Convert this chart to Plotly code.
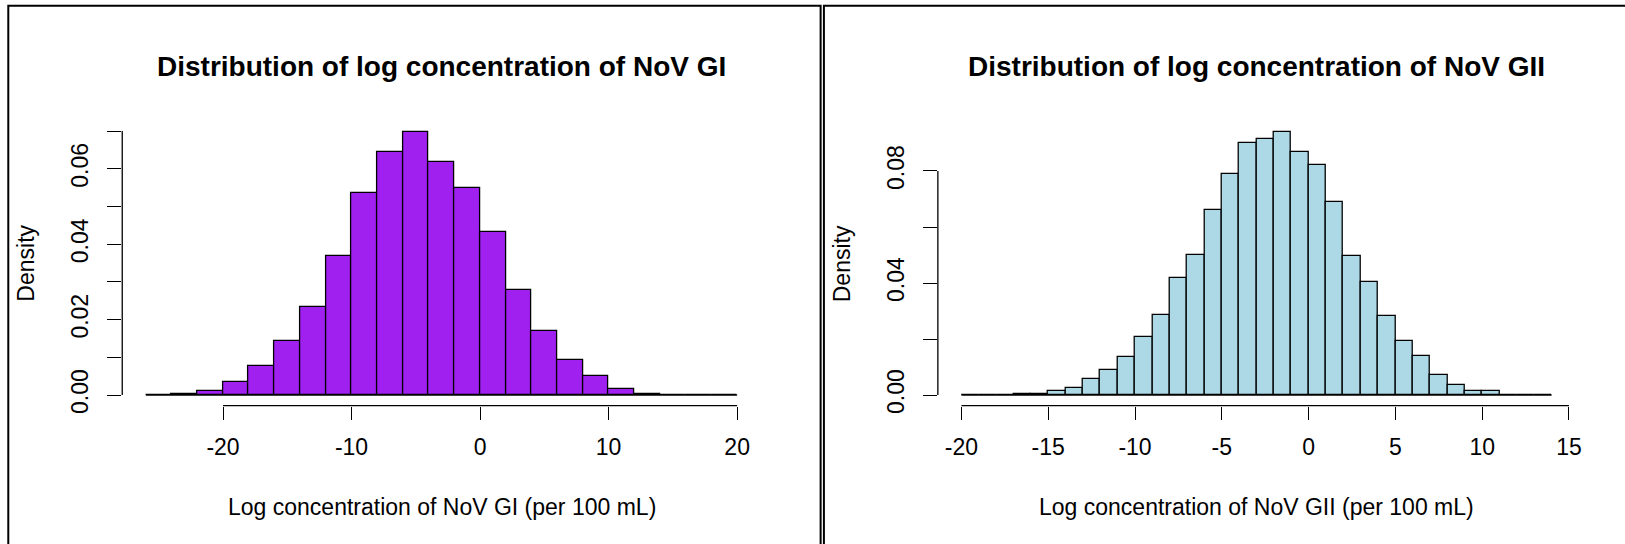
import plotly.graph_objects as go

# ---------------- data ----------------
gi_bin_start = -26
gi_bin_width = 2
gi_density = [0, 0.0004, 0.0011, 0.0035, 0.0078, 0.0144, 0.0235, 0.0368, 0.0537,
              0.0645, 0.0699, 0.0617, 0.0548, 0.0433, 0.0279, 0.0171, 0.0094,
              0.0050, 0.0016, 0.0004, 0, 0, 0]

gii_bin_start = -20
gii_bin_width = 1
gii_density = [0, 0, 0, 0.0004, 0.0005, 0.0016, 0.0026, 0.0059, 0.0090, 0.0135,
               0.0208, 0.0287, 0.0417, 0.0499, 0.0660, 0.0790, 0.0899, 0.0915,
               0.0941, 0.0868, 0.0823, 0.0688, 0.0495, 0.0405, 0.0281, 0.0193,
               0.0141, 0.0073, 0.0036, 0.0016, 0.0016, 0, 0, 0]

gi_xticks = [-20, -10, 0, 10, 20]
gi_yticks = [0, 0.01, 0.02, 0.03, 0.04, 0.05, 0.06, 0.07]
gi_ylabels = ["0.00", "", "0.02", "", "0.04", "", "0.06", ""]

gii_xticks = [-20, -15, -10, -5, 0, 5, 10, 15]
gii_yticks = [0, 0.02, 0.04, 0.06, 0.08]
gii_ylabels = ["0.00", "", "0.04", "", "0.08"]

titles = ["Distribution of log concentration of NoV GI",
          "Distribution of log concentration of NoV GII"]
xtitles = ["Log concentration of NoV GI (per 100 mL)",
           "Log concentration of NoV GII (per 100 mL)"]
ytitle = "Density"
colors = ["#A020F0", "#ADD8E6"]

# ---------------- layout constants ----------------
W, H = 1625, 544
SX, SY = 1.003, 1.017          # small correction for the capture's scaling
FONT = "Arial, Liberation Sans, sans-serif"
TICK_FS = 23
TITLE_FS = 28
plot_top_px, plot_bot_px = 120.7, 404.8
panels_px = [(122.4, 761.8), (939.1, 1577.3)]


def px2x(p):
    return p * SX / W


def px2y(p):
    return 1 - p * SY / H


ydom = [px2y(plot_bot_px), px2y(plot_top_px)]

fig = go.Figure()

datasets = [
    (gi_bin_start, gi_bin_width, gi_density, gi_xticks, gi_yticks, gi_ylabels),
    (gii_bin_start, gii_bin_width, gii_density, gii_xticks, gii_yticks, gii_ylabels),
]

shapes = []
annotations = []
for i, (start, bw, dens, xt, yt, yl) in enumerate(datasets):
    n = len(dens)
    edges = [start + k * bw for k in range(n + 1)]
    centers = [start + (k + 0.5) * bw for k in range(n)]
    xa = "x" if i == 0 else "x2"
    ya = "y" if i == 0 else "y2"
    fig.add_trace(go.Bar(
        x=centers, y=dens, width=[bw] * n,
        marker=dict(color=colors[i], line=dict(color="black", width=1.3)),
        xaxis=xa, yaxis=ya, showlegend=False, hoverinfo="x+y"))
    # baseline over the whole binned range (R draws zero-height rects)
    fig.add_trace(go.Scatter(
        x=[edges[0], edges[-1]], y=[0, 0], mode="lines",
        line=dict(color="black", width=1.3), xaxis=xa, yaxis=ya,
        showlegend=False, hoverinfo="skip"))

    xmin, xmax = edges[0], edges[-1]
    span = xmax - xmin
    xr = [xmin - 0.04 * span, xmax + 0.04 * span]
    ymax = max(dens)
    yr = [-0.04 * ymax, ymax * 1.04]
    xdom = [px2x(panels_px[i][0]), px2x(panels_px[i][1])]

    axis_common = dict(showgrid=False, zeroline=False, showline=False,
                       ticks="outside", tickcolor="black", tickwidth=1.3,
                       tickfont=dict(family=FONT, size=TICK_FS, color="black"))
    fig.update_layout(**{
        ("xaxis" if i == 0 else "xaxis2"): dict(
            domain=xdom, range=xr, anchor=ya, tickmode="array", tickvals=xt,
            ticktext=[str(v) for v in xt], ticklen=13 * SY, ticklabelstandoff=8,
            **axis_common),
        ("yaxis" if i == 0 else "yaxis2"): dict(
            domain=ydom, range=yr, anchor=xa, tickmode="array", tickvals=yt,
            ticktext=yl, ticklen=14, tickangle=-90, ticklabelstandoff=10,
            **axis_common),
    })
    # R-style axis lines that span only the tick range
    shapes.append(dict(type="line", xref=xa, yref="paper", x0=xt[0], x1=xt[-1],
                       y0=ydom[0], y1=ydom[0], line=dict(color="black", width=1.3)))
    shapes.append(dict(type="line", xref="paper", yref=ya, x0=xdom[0], x1=xdom[0],
                       y0=yt[0], y1=yt[-1], line=dict(color="black", width=1.3)))

    cx = (xdom[0] + xdom[1]) / 2
    annotations.append(dict(text="<b>" + titles[i] + "</b>", x=cx, y=px2y(66.3),
                            xref="paper", yref="paper", showarrow=False,
                            xanchor="center", yanchor="middle",
                            font=dict(family=FONT, size=TITLE_FS, color="black")))
    annotations.append(dict(text=xtitles[i], x=cx, y=px2y(505.5),
                            xref="paper", yref="paper", showarrow=False,
                            xanchor="center", yanchor="middle",
                            font=dict(family=FONT, size=TICK_FS, color="black")))
    annotations.append(dict(text=ytitle, x=xdom[0] - px2x(96), y=(ydom[0] + ydom[1]) / 2,
                            xref="paper", yref="paper", showarrow=False, textangle=-90,
                            xanchor="center", yanchor="middle",
                            font=dict(family=FONT, size=TICK_FS, color="black")))

# panel frames (extend past the page edges, as in the cropped reference)
shapes.append(dict(type="rect", xref="paper", yref="paper",
                   x0=px2x(8.3), x1=px2x(821.7), y0=px2y(580), y1=px2y(5.7),
                   line=dict(color="black", width=2)))
shapes.append(dict(type="rect", xref="paper", yref="paper",
                   x0=px2x(825), x1=px2x(1660), y0=px2y(580), y1=px2y(5.7),
                   line=dict(color="black", width=2)))

fig.update_layout(width=W, height=H, margin=dict(l=0, r=0, t=0, b=0),
                  paper_bgcolor="white", plot_bgcolor="white",
                  barmode="overlay", bargap=0, showlegend=False,
                  shapes=shapes, annotations=annotations,
                  font=dict(family=FONT, color="black"))

page_fix = (
    "var de=document.documentElement, b=document.body;"
    "de.style.margin='0';de.style.padding='0';de.style.overflow='hidden';"
    "b.style.margin='0';b.style.padding='0';b.style.overflow='hidden';"
)

fig.write_html("out.html", config={"displayModeBar": False},
               post_script=page_fix)
